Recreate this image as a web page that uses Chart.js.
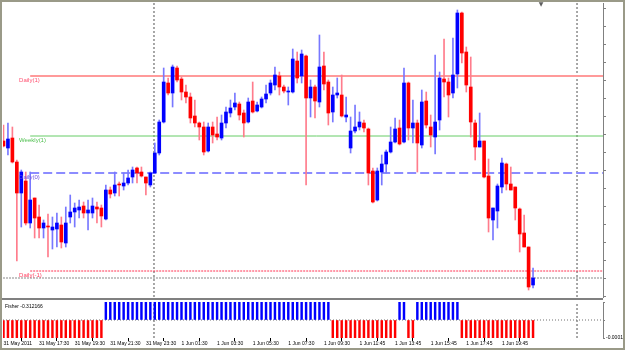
<!DOCTYPE html>
<html>
<head>
<meta charset="utf-8">
<script src="https://cdn.jsdelivr.net/npm/chart.js@4.4.1/dist/chart.umd.min.js"></script>
<style>
  body { margin: 0; background: #fff; }
  #frame { position: absolute; left: 0; top: 0; width: 621px; height: 346px; border: 2px solid #9a9a88; }
  #main_wrap { position: absolute; left: 0; top: 0; width: 625px; height: 298px; }
  #sep { position: absolute; left: 2px; top: 298px; width: 601px; height: 2px; background: #808080; }
  #ind_wrap { position: absolute; left: 0; top: 298px; width: 625px; height: 52px; }
</style>
</head>
<body>
<div id="frame"></div>
<div id="main_wrap"><canvas id="main_canvas"></canvas></div>
<div id="sep"></div>
<div id="ind_wrap"><canvas id="ind_canvas"></canvas></div>
<script>
// 15 minute bars, 31 May 15:30 .. 1 Jun 21:00
const opens = [
  1.41295, 1.41260, 1.41310, 1.41190, 1.41035, 1.41095, 1.40885, 1.41010, 1.40915, 1.40860,
  1.40870, 1.40850, 1.40855, 1.40875, 1.40785, 1.40915, 1.40940, 1.40950, 1.40970, 1.40935,
  1.40935, 1.40965, 1.40960, 1.40905, 1.41050, 1.41035, 1.41080, 1.41070, 1.41085, 1.41115,
  1.41160, 1.41140, 1.41115, 1.41075, 1.41135, 1.41235, 1.41390, 1.41585, 1.41535, 1.41660,
  1.41605, 1.41540, 1.41515, 1.41420, 1.41385, 1.41365, 1.41245, 1.41365, 1.41330, 1.41310,
  1.41385, 1.41435, 1.41465, 1.41480, 1.41435, 1.41390, 1.41495, 1.41445, 1.41465, 1.41505,
  1.41535, 1.41575, 1.41620, 1.41565, 1.41540, 1.41540, 1.41695, 1.41620, 1.41720, 1.41510,
  1.41565, 1.41490, 1.41670, 1.41590, 1.41440, 1.41525, 1.41525, 1.41415, 1.41260, 1.41345,
  1.41365, 1.41385, 1.41355, 1.41145, 1.41000, 1.41140, 1.41180, 1.41240, 1.41290, 1.41360,
  1.41290, 1.41585, 1.41360, 1.41385, 1.41275, 1.41495, 1.41365, 1.41315, 1.41400, 1.41605,
  1.41590, 1.41535, 1.41630, 1.41935, 1.41740, 1.41565, 1.41385, 1.41265, 1.41295, 1.41120,
  1.40900, 1.40945, 1.41065, 1.41180, 1.41080, 1.41065, 1.40955, 1.40835, 1.40765, 1.40575
]
const highs = [
  1.41375, 1.41385, 1.41365, 1.41200, 1.41150, 1.41140, 1.41140, 1.41010, 1.40975, 1.40900,
  1.40930, 1.40915, 1.40935, 1.40915, 1.40965, 1.41025, 1.40985, 1.41000, 1.40990, 1.41000,
  1.41010, 1.40990, 1.40975, 1.41075, 1.41065, 1.41140, 1.41090, 1.41135, 1.41150, 1.41165,
  1.41165, 1.41165, 1.41115, 1.41140, 1.41285, 1.41400, 1.41660, 1.41610, 1.41675, 1.41670,
  1.41615, 1.41575, 1.41535, 1.41500, 1.41390, 1.41390, 1.41385, 1.41390, 1.41415, 1.41425,
  1.41465, 1.41500, 1.41535, 1.41490, 1.41450, 1.41510, 1.41590, 1.41490, 1.41515, 1.41575,
  1.41600, 1.41665, 1.41640, 1.41575, 1.41565, 1.41755, 1.41740, 1.41750, 1.41725, 1.41600,
  1.41575, 1.41825, 1.41740, 1.41600, 1.41565, 1.41610, 1.41625, 1.41515, 1.41415, 1.41475,
  1.41440, 1.41400, 1.41360, 1.41160, 1.41160, 1.41225, 1.41250, 1.41365, 1.41410, 1.41400,
  1.41660, 1.41590, 1.41500, 1.41400, 1.41550, 1.41540, 1.41425, 1.41725, 1.41640, 1.41805,
  1.41610, 1.41810, 1.41950, 1.41940, 1.41765, 1.41715, 1.41400, 1.41435, 1.41295, 1.41205,
  1.40960, 1.41080, 1.41210, 1.41185, 1.41165, 1.41065, 1.40960, 1.40925, 1.40765, 1.40660
]
const lows = [
  1.41265, 1.41225, 1.41185, 1.40695, 1.40865, 1.40875, 1.40860, 1.40810, 1.40810, 1.40810,
  1.40715, 1.40755, 1.40765, 1.40760, 1.40765, 1.40885, 1.40865, 1.40910, 1.40910, 1.40850,
  1.40910, 1.40885, 1.40865, 1.40900, 1.41010, 1.41020, 1.41020, 1.41050, 1.41075, 1.41085,
  1.41085, 1.41115, 1.41025, 1.41065, 1.41135, 1.41225, 1.41385, 1.41525, 1.41465, 1.41590,
  1.41500, 1.41485, 1.41385, 1.41365, 1.41300, 1.41225, 1.41240, 1.41285, 1.41300, 1.41300,
  1.41360, 1.41415, 1.41450, 1.41400, 1.41315, 1.41385, 1.41435, 1.41440, 1.41460, 1.41485,
  1.41525, 1.41550, 1.41525, 1.41535, 1.41475, 1.41535, 1.41585, 1.41585, 1.41075, 1.41415,
  1.41410, 1.41465, 1.41550, 1.41375, 1.41390, 1.41510, 1.41415, 1.41390, 1.41235, 1.41335,
  1.41350, 1.41340, 1.41075, 1.40985, 1.40995, 1.41075, 1.41135, 1.41235, 1.41285, 1.41275,
  1.41285, 1.41300, 1.41285, 1.41140, 1.41260, 1.41360, 1.41265, 1.41230, 1.41350, 1.41515,
  1.41415, 1.41510, 1.41560, 1.41685, 1.41540, 1.41315, 1.41200, 1.41265, 1.41110, 1.40840,
  1.40800, 1.40860, 1.41035, 1.41050, 1.41050, 1.40900, 1.40740, 1.40765, 1.40550, 1.40560
]
const closes = [
  1.41270, 1.41305, 1.41190, 1.41035, 1.41140, 1.40885, 1.41000, 1.40910, 1.40860, 1.40885,
  1.40865, 1.40865, 1.40885, 1.40790, 1.40885, 1.40940, 1.40960, 1.40965, 1.40935, 1.40950,
  1.40970, 1.40955, 1.40920, 1.41050, 1.41030, 1.41075, 1.41075, 1.41085, 1.41110, 1.41150,
  1.41135, 1.41120, 1.41085, 1.41135, 1.41235, 1.41390, 1.41590, 1.41535, 1.41665, 1.41600,
  1.41540, 1.41515, 1.41410, 1.41385, 1.41365, 1.41240, 1.41365, 1.41325, 1.41315, 1.41385,
  1.41440, 1.41460, 1.41485, 1.41425, 1.41385, 1.41490, 1.41440, 1.41475, 1.41505, 1.41530,
  1.41585, 1.41625, 1.41565, 1.41545, 1.41545, 1.41705, 1.41610, 1.41730, 1.41510, 1.41565,
  1.41495, 1.41665, 1.41580, 1.41435, 1.41525, 1.41535, 1.41420, 1.41425, 1.41345, 1.41365,
  1.41390, 1.41360, 1.41135, 1.40990, 1.41145, 1.41180, 1.41240, 1.41290, 1.41355, 1.41280,
  1.41585, 1.41360, 1.41385, 1.41285, 1.41490, 1.41375, 1.41325, 1.41390, 1.41610, 1.41590,
  1.41525, 1.41625, 1.41935, 1.41735, 1.41575, 1.41390, 1.41265, 1.41295, 1.41115, 1.40910,
  1.40960, 1.41070, 1.41185, 1.41080, 1.41050, 1.40960, 1.40830, 1.40765, 1.40565, 1.40610
]

// Fisher histogram, +/- one step per bar
const fisher = [
  -1e-4, -1e-4, -1e-4, -1e-4, -1e-4, -1e-4, -1e-4, -1e-4, -1e-4, -1e-4,
  -1e-4, -1e-4, -1e-4, -1e-4, -1e-4, -1e-4, -1e-4, -1e-4, -1e-4, -1e-4,
  -1e-4, -1e-4, -1e-4, 1e-4, 1e-4, 1e-4, 1e-4, 1e-4, 1e-4, 1e-4,
  1e-4, 1e-4, 1e-4, 1e-4, 1e-4, 1e-4, 1e-4, 1e-4, 1e-4, 1e-4,
  1e-4, 1e-4, 1e-4, 1e-4, 1e-4, 1e-4, 1e-4, 1e-4, 1e-4, 1e-4,
  1e-4, 1e-4, 1e-4, 1e-4, 1e-4, 1e-4, 1e-4, 1e-4, 1e-4, 1e-4,
  1e-4, 1e-4, 1e-4, 1e-4, 1e-4, 1e-4, 1e-4, 1e-4, 1e-4, 1e-4,
  1e-4, 1e-4, 1e-4, 1e-4, -1e-4, -1e-4, -1e-4, -1e-4, -1e-4, -1e-4,
  -1e-4, -1e-4, -1e-4, -1e-4, -1e-4, -1e-4, -1e-4, -1e-4, -1e-4, 1e-4,
  1e-4, -1e-4, -1e-4, 1e-4, 1e-4, 1e-4, 1e-4, 1e-4, 1e-4, 1e-4,
  1e-4, 1e-4, 1e-4, -1e-4, -1e-4, -1e-4, -1e-4, -1e-4, -1e-4, -1e-4,
  -1e-4, -1e-4, -1e-4, -1e-4, -1e-4, -1e-4, -1e-4, -1e-4, -1e-4, -1e-4
]
const FISHER_LAST = 'Fisher -0.312166'

const timeTickBars = [0, 8, 16, 24, 32, 40, 48, 56, 64, 72, 80, 88, 96, 104, 112]
const timeTickLabels = ['31 May 2011', '31 May 17:30', '31 May 19:30', '31 May 21:30', '31 May 23:30',
  '1 Jun 01:30', '1 Jun 03:30', '1 Jun 05:30', '1 Jun 07:30', '1 Jun 09:30',
  '1 Jun 11:45', '1 Jun 13:45', '1 Jun 15:45', '1 Jun 17:45', '1 Jun 19:45']

// pivot style levels drawn by the indicator
const levelNames = ['Daily(1)', 'Weekly(1)', 'Daily(0)', 'Daily(-1)']
const levelValues = [1.41620, 1.41320, 1.41135, 1.40645]
const BID = 1.40610

// period separators (bar positions) and chart shift marker
const separatorBars = [33.82, 128.88]
const SHIFT_BAR = 120.8

const X_MIN = -0.11
const X_MAX = 134.72
const LEVEL_FROM = 6
const Y_MIN = 1.40515
const Y_MAX = 1.41985
const Y_TICK_TOP = 1.41955
const Y_TICK_STEP = 0.0009

const BULL = '#0000ff'
const BEAR = '#ff0000'
const BULL_WICK = '#7878ff'
const BEAR_WICK = '#ff7c8c'

Chart.defaults.font.family = '"Liberation Sans", Arial, sans-serif'

const isUp = i => closes[i] >= opens[i]

const levelText = {
  id: 'levelText',
  afterDatasetsDraw(chart) {
    const {ctx, chartArea, scales: {x, y}} = chart
    const colors = ['#ff5070', '#50c050', '#7050e0', '#ff4060']
    ctx.save()
    ctx.font = '6px "Liberation Sans"'
    ctx.textBaseline = 'middle'
    levelNames.forEach((name, k) => {
      ctx.fillStyle = colors[k]
      ctx.fillText(name, x.getPixelForValue(3.5), y.getPixelForValue(levelValues[k]) + 4)
    })
    // shift marker at the top edge
    ctx.fillStyle = '#606060'
    ctx.font = '6px "DejaVu Sans"'
    ctx.textAlign = 'center'
    ctx.fillText('\u25BC', x.getPixelForValue(SHIFT_BAR), chartArea.top + 1)
    ctx.restore()
  }
}

function hLine(level, color, width, dash, from) {
  return {
    type: 'line',
    data: [{x: from, y: level}, {x: X_MAX, y: level}],
    borderColor: color, borderWidth: width, borderDash: dash,
    pointRadius: 0, order: 3
  }
}

function vLine(bar, lo, hi) {
  return {
    type: 'line',
    data: [{x: bar, y: lo}, {x: bar, y: hi}],
    borderColor: '#505050', borderWidth: 1, borderDash: [2, 2],
    pointRadius: 0, order: 4
  }
}

new Chart(document.getElementById('main_canvas'), {
  type: 'bar',
  data: {
    datasets: [
      {
        data: opens.map((o, i) => ({x: i, y: [o, closes[i]]})),
        backgroundColor: c => isUp(c.dataIndex) ? BULL : BEAR,
        barThickness: 3, grouped: false, minBarLength: 1, borderWidth: 0, order: 0
      },
      {
        data: lows.map((l, i) => ({x: i, y: [l, highs[i]]})),
        backgroundColor: c => isUp(c.dataIndex) ? BULL_WICK : BEAR_WICK,
        barThickness: 1, grouped: false, borderWidth: 0, order: 1
      },
      hLine(levelValues[0], '#ff9a9a', 2, [], LEVEL_FROM),
      hLine(levelValues[1], '#66cc66', 1, [], LEVEL_FROM),
      hLine(levelValues[2], '#8c8cff', 2, [9, 4], LEVEL_FROM),
      hLine(levelValues[3], '#ff3050', 1, [2, 1], LEVEL_FROM),
      hLine(BID, '#c4c4c4', 2, [2, 1], X_MIN),
      ...separatorBars.map(b => vLine(b, Y_MIN, Y_MAX))
    ]
  },
  options: {
    responsive: true, maintainAspectRatio: false, animation: false,
    layout: {padding: {left: 3, top: 3, right: 0, bottom: 1}},
    plugins: {legend: {display: false}, tooltip: {enabled: false}},
    scales: {
      x: {type: 'linear', min: X_MIN, max: X_MAX, offset: false, display: false},
      y: {
        position: 'right', min: Y_MIN, max: Y_MAX,
        afterBuildTicks: s => {
          const t = []
          for (let v = Y_TICK_TOP; v >= Y_MIN; v -= Y_TICK_STEP) t.push({value: v})
          s.ticks = t
        },
        afterFit: s => { s.width = 22 },
        ticks: {display: false},
        grid: {drawOnChartArea: false, tickLength: 3, color: '#808080'},
        border: {color: '#808080'}
      }
    }
  },
  plugins: [levelText]
})

const fisherText = {
  id: 'fisherText',
  afterDatasetsDraw(chart) {
    const {ctx, chartArea} = chart
    ctx.save()
    ctx.font = '5px "Liberation Sans"'
    ctx.fillStyle = '#000'
    ctx.textBaseline = 'middle'
    ctx.fillText(FISHER_LAST, chartArea.left + 2, chartArea.top + 5)
    ctx.restore()
  }
}

new Chart(document.getElementById('ind_canvas'), {
  type: 'bar',
  data: {
    datasets: [
      {
        data: fisher.map((v, i) => ({x: i, y: v})),
        backgroundColor: c => fisher[c.dataIndex] > 0 ? BULL : BEAR,
        barThickness: 1.8, grouped: false, borderWidth: 0, order: 0
      },
      {
        type: 'line', data: [{x: X_MIN, y: 0}, {x: X_MAX, y: 0}],
        borderColor: '#707070', borderWidth: 1, borderDash: [1, 2], pointRadius: 0, order: 2
      },
      ...separatorBars.map(b => vLine(b, -1e-4, 1e-4))
    ]
  },
  options: {
    responsive: true, maintainAspectRatio: false, animation: false,
    layout: {padding: {left: 3, top: 2, right: 0, bottom: 0}},
    plugins: {legend: {display: false}, tooltip: {enabled: false}},
    scales: {
      x: {
        type: 'linear', min: X_MIN, max: X_MAX, offset: false,
        afterBuildTicks: s => { s.ticks = timeTickBars.map(v => ({value: v})) },
        afterFit: s => { s.height = 12 },
        ticks: {
          callback: v => timeTickLabels[timeTickBars.indexOf(v)],
          align: 'start', maxRotation: 0, minRotation: 0, autoSkip: false,
          padding: 0, color: '#000', font: {size: 5}
        },
        grid: {drawOnChartArea: false, tickLength: 3, color: '#000'},
        border: {display: false}
      },
      y: {
        position: 'right', min: -1e-4, max: 1e-4,
        afterBuildTicks: s => { s.ticks = [{value: -1e-4}, {value: 0}, {value: 1e-4}] },
        afterFit: s => { s.width = 22 },
        ticks: {
          callback: v => v < 0 ? '-0.0001' : '',
          padding: 1, color: '#000', font: {size: 5}
        },
        grid: {drawOnChartArea: false, tickLength: 2, color: '#808080'},
        border: {color: '#808080'}
      }
    }
  },
  plugins: [fisherText]
})
</script>
</body>
</html>
